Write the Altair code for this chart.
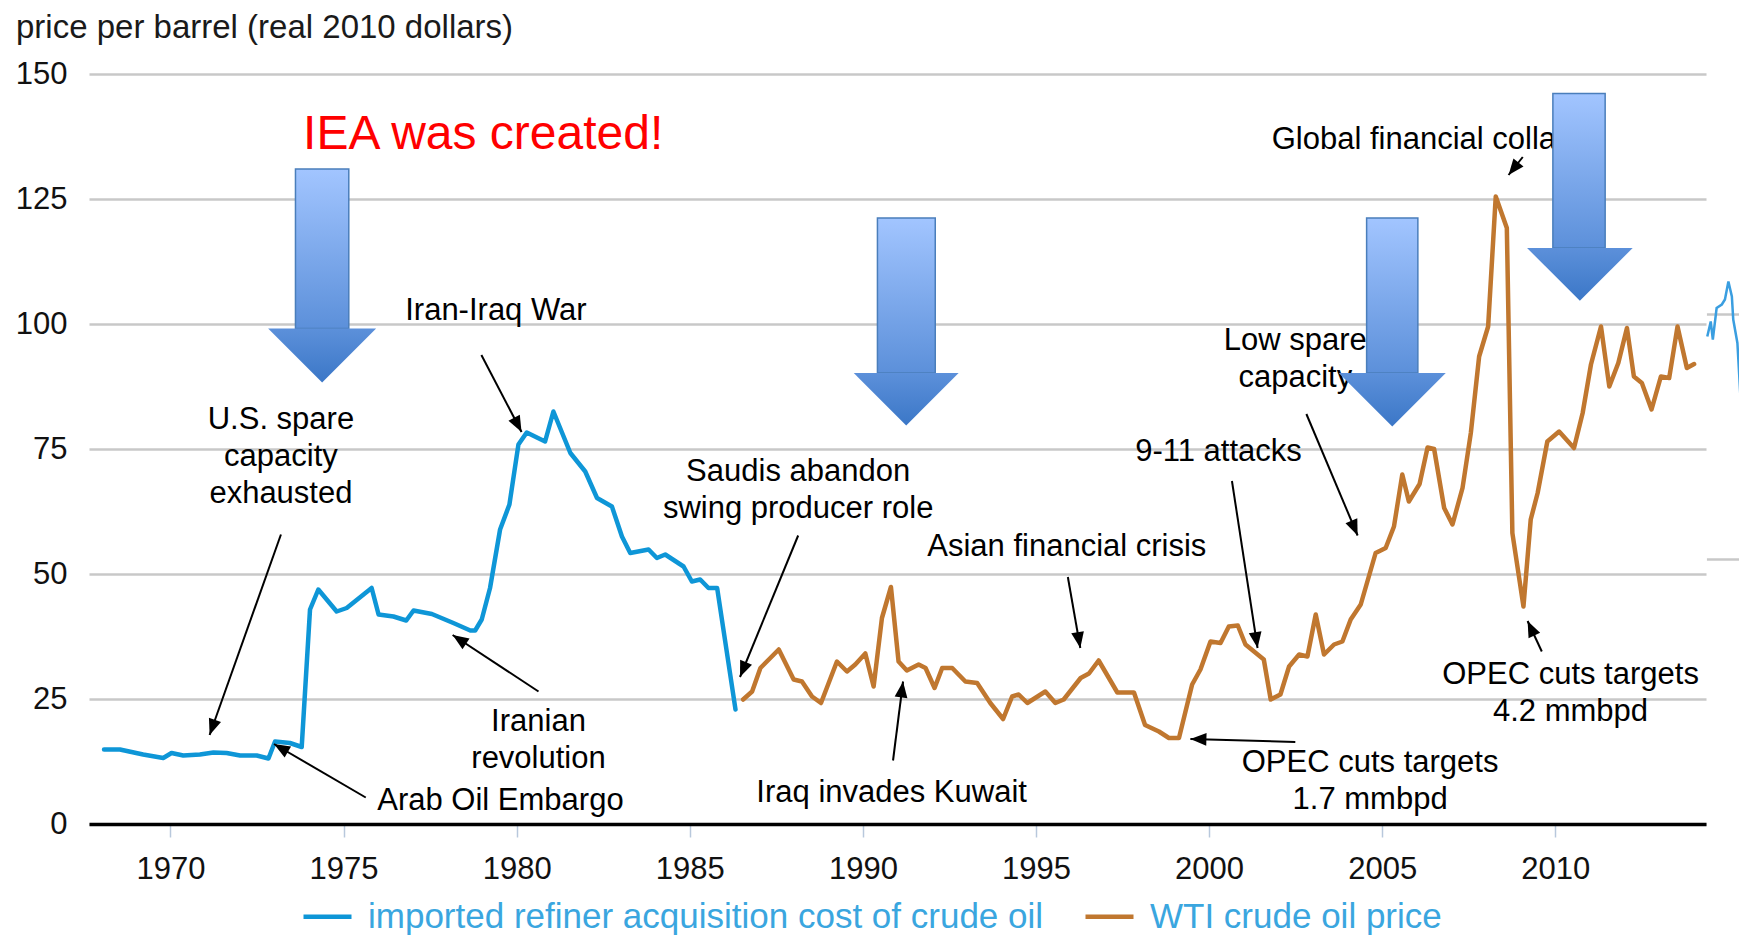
import math
import altair as alt
import pandas as pd

# ---------------- data ----------------
blue_year = [1968.08, 1968.54, 1969.21, 1969.79, 1970.03, 1970.37, 1970.85, 1971.24, 1971.62,
             1972.01, 1972.49, 1972.83, 1973.02, 1973.45, 1973.79, 1974.03, 1974.27, 1974.80,
             1975.09, 1975.81, 1976.01, 1976.44, 1976.81, 1977.02, 1977.55, 1978.17, 1978.66,
             1978.80, 1978.99, 1979.23, 1979.52, 1979.79, 1980.05, 1980.29, 1980.82, 1981.06,
             1981.55, 1981.98, 1982.32, 1982.75, 1983.04, 1983.28, 1983.81, 1984.05, 1984.29,
             1984.82, 1985.06, 1985.30, 1985.54, 1985.79, 1986.32]
blue_value = [14.9, 14.9, 13.9, 13.2, 14.2, 13.7, 13.9, 14.3, 14.2,
              13.7, 13.7, 13.1, 16.5, 16.2, 15.4, 42.9, 46.9, 42.5,
              43.2, 47.2, 41.9, 41.5, 40.7, 42.7, 42.0, 40.2, 38.7,
              38.7, 40.9, 47.2, 58.9, 63.9, 75.9, 78.3, 76.5, 82.5,
              74.2, 70.5, 65.2, 63.5, 57.5, 54.2, 54.9, 53.2, 53.9,
              51.5, 48.5, 48.9, 47.2, 47.2, 22.9]

wti_year = [1986.54, 1986.80, 1987.04, 1987.57, 1988.00, 1988.24, 1988.53, 1988.79, 1989.25,
            1989.54, 1989.78, 1990.07, 1990.31, 1990.55, 1990.81, 1991.03, 1991.27, 1991.61,
            1991.81, 1992.07, 1992.29, 1992.58, 1992.96, 1993.30, 1993.68, 1994.05, 1994.31,
            1994.50, 1994.75, 1995.27, 1995.56, 1995.80, 1996.29, 1996.53, 1996.81, 1997.35,
            1997.83, 1998.15, 1998.55, 1998.84, 1999.13, 1999.51, 1999.75, 2000.04, 2000.33,
            2000.57, 2000.83, 2001.05, 2001.58, 2001.78, 2002.06, 2002.31, 2002.60, 2002.84,
            2003.08, 2003.32, 2003.61, 2003.85, 2004.09, 2004.38, 2004.81, 2005.10, 2005.34,
            2005.58, 2005.77, 2006.08, 2006.31, 2006.50, 2006.79, 2007.03, 2007.32, 2007.56,
            2007.80, 2008.06, 2008.28, 2008.60, 2008.76, 2009.08, 2009.29, 2009.49, 2009.77,
            2010.11, 2010.54, 2010.79, 2011.03, 2011.32, 2011.56, 2011.82, 2012.07, 2012.27,
            2012.50, 2012.78, 2013.05, 2013.29, 2013.53, 2013.80, 2014.01]
wti_value = [24.9, 26.5, 31.2, 34.9, 28.9, 28.5, 25.5, 24.2, 32.5,
             30.5, 31.9, 34.1, 27.5, 41.2, 47.4, 32.5, 30.7, 31.9,
             31.2, 27.2, 31.2, 31.2, 28.5, 28.2, 24.2, 21.0, 25.5,
             25.9, 24.2, 26.5, 24.2, 24.9, 29.2, 30.1, 32.7, 26.3,
             26.3, 19.8, 18.5, 17.2, 17.2, 27.9, 30.9, 36.5, 36.2,
             39.5, 39.7, 35.9, 32.9, 24.9, 25.9, 31.5, 33.9, 33.5,
             41.9, 33.9, 35.9, 36.5, 40.9, 43.9, 54.2, 55.2, 59.5,
             69.9, 64.5, 68.0, 75.3, 75.0, 63.2, 59.9, 67.2, 78.2,
             93.5, 99.5, 125.5, 119.2, 58.2, 43.5, 60.9, 66.2, 76.5,
             78.5, 75.2, 82.2, 91.9, 99.5, 87.5, 92.2, 99.2, 89.5,
             88.2, 82.9, 89.5, 89.2, 99.5, 91.2, 92.0]

series_names = ["imported refiner acquisition cost of crude oil", "WTI crude oil price"]

# cropped fragment of a neighbouring chart at the right edge
edge_year = [2014.39, 2014.49, 2014.55, 2014.66, 2014.81, 2014.90, 2015.00, 2015.10, 2015.14, 2015.26, 2015.38, 2015.51]
edge_value = [97.5, 100.5, 96.9, 103.2, 103.9, 104.9, 108.5, 105.5, 100.9, 96.2, 81.5, 61.5]
edge_grid_value = [101.9, 52.9]
edge_grid_from = [2014.38, 2014.38]
edge_grid_to = [2015.56, 2015.56]

y_ticks = [0, 25, 50, 75, 100, 125, 150]
x_ticks = [1970, 1975, 1980, 1985, 1990, 1995, 2000, 2005, 2010]

# multi-line labels: value gives the position of the first line
ann_text = ["U.S. spare\ncapacity\nexhausted", "Iran-Iraq War", "Saudis abandon\nswing producer role",
            "Asian financial crisis", "9-11 attacks", "Low spare\ncapacity", "Iranian\nrevolution",
            "Arab Oil Embargo", "Iraq invades Kuwait", "OPEC cuts targets\n1.7 mmbpd",
            "OPEC cuts targets\n4.2 mmbpd"]
ann_year = [1973.19, 1979.40, 1988.13, 1995.89, 2000.27, 2002.49, 1980.63, 1979.53, 1990.83, 2004.65, 2010.44]
ann_value = [80.9, 102.7, 70.4, 55.5, 74.4, 96.7, 20.5, 4.6, 6.2, 12.2, 29.8]

iea_text = ["IEA was created!"]
iea_year = [1973.83]
iea_value = [137.9]

gfc_text = ["Global financial collapse"]
gfc_year = [2001.81]
gfc_value = [136.8]

arrow_x1 = [1973.19, 1975.64, 1978.98, 1980.63, 1988.13, 1990.87, 1995.92, 2000.66, 2002.81, 2002.49, 2009.06, 2009.61]
arrow_y1 = [57.9, 5.3, 93.8, 26.5, 57.7, 12.7, 49.4, 68.6, 82.0, 16.4, 133.4, 34.5]
arrow_x2 = [1971.13, 1972.99, 1980.14, 1978.15, 1986.45, 1991.16, 1996.28, 2001.40, 2004.29, 1999.46, 2008.65, 2009.20]
arrow_y2 = [17.8, 16.0, 78.4, 37.8, 29.4, 28.5, 35.2, 35.2, 57.7, 17.0, 129.8, 40.6]

big_id = ["A1", "A2", "A3", "A4"]
big_shaft_x1 = [1973.61, 1990.42, 2004.55, 2009.93]
big_shaft_x2 = [1975.15, 1992.09, 2006.03, 2011.44]
big_shaft_top = [131.0, 121.2, 121.2, 146.1]
big_head_top = [99.1, 90.2, 90.2, 115.2]
big_head_x1 = [1972.80, 1989.74, 2003.75, 2009.18]
big_head_x2 = [1975.92, 1992.77, 2006.84, 2012.23]
big_tip_x = [1974.38, 1991.25, 2005.29, 2010.71]
big_tip_y = [88.4, 79.7, 79.7, 104.7]

# ---------------- layout / style ----------------
W, H = 1617, 750
X_DOMAIN = [1967.646, 2014.353]
Y_DOMAIN = [0, 150]
BLUE = "#0E96D7"
ORANGE = "#C0772F"
FONT = "Liberation Sans"

xs = alt.Scale(domain=X_DOMAIN, nice=False, zero=False)
ys = alt.Scale(domain=Y_DOMAIN, nice=False, zero=False)

AX = alt.Axis(values=x_ticks, format="d", title=None, grid=False,
              domainColor="#000000", domainWidth=3.5,
              tickColor="#B8C8DC", tickSize=13, tickWidth=1.5,
              labelFontSize=31, labelFont=FONT, labelColor="#111111", labelPadding=17)
AY = alt.Axis(values=y_ticks, title=None, grid=True, gridColor="#C8C8C8", gridWidth=2.5,
              domain=False, ticks=False,
              labelFontSize=31, labelFont=FONT, labelColor="#111111", labelPadding=22)


def X(field):
    return alt.X(field, scale=xs, axis=AX)


def Y(field):
    return alt.Y(field, scale=ys, axis=AY)


lines_df = pd.concat([
    pd.DataFrame({"year": blue_year, "value": blue_value, "series": series_names[0]}),
    pd.DataFrame({"year": wti_year, "value": wti_value, "series": series_names[1]}),
])

lines = alt.Chart(lines_df).mark_line(strokeWidth=4.5, strokeJoin="round", strokeCap="round").encode(
    x=X("year:Q"),
    y=Y("value:Q"),
    color=alt.Color("series:N", scale=alt.Scale(domain=series_names, range=[BLUE, ORANGE]),
                    legend=alt.Legend(orient="none", legendX=212, legendY=816, direction="horizontal",
                                      title=None, symbolType="stroke", symbolSize=2304,
                                      symbolStrokeWidth=4.5, labelFontSize=35, labelFont=FONT,
                                      labelColor="#3AA6DF", labelOffset=14, columnPadding=32,
                                      labelLimit=2000)),
    order="year:Q",
)

edge_df = pd.DataFrame({"year": edge_year, "value": edge_value})
edge_line = alt.Chart(edge_df).mark_line(strokeWidth=2.5, color="#3A9EE0", clip=False).encode(
    x=X("year:Q"), y=Y("value:Q"), order="year:Q")
edge_grid_df = pd.DataFrame({"x1": edge_grid_from, "x2": edge_grid_to, "value": edge_grid_value})
edge_grid = alt.Chart(edge_grid_df).mark_rule(strokeWidth=2.5, color="#C8C8C8", clip=False).encode(
    x=X("x1:Q"), x2="x2:Q", y=Y("value:Q"))

ann_df = pd.DataFrame({"year": ann_year, "value": ann_value, "label": ann_text})
ann = alt.Chart(ann_df).mark_text(fontSize=31, font=FONT, color="#000000", align="center",
                                  baseline="middle", lineBreak="\n", lineHeight=37).encode(
    x=X("year:Q"), y=Y("value:Q"), text="label:N")

iea = alt.Chart(pd.DataFrame({"year": iea_year, "value": iea_value, "label": iea_text})).mark_text(
    fontSize=48, font=FONT, color="#FF0000", align="left", baseline="middle").encode(
    x=X("year:Q"), y=Y("value:Q"), text="label:N")

gfc = alt.Chart(pd.DataFrame({"year": gfc_year, "value": gfc_value, "label": gfc_text})).mark_text(
    fontSize=31, font=FONT, color="#000000", align="left", baseline="middle").encode(
    x=X("year:Q"), y=Y("value:Q"), text="label:N")

# arrows (thin black with heads)
px_year = W / (X_DOMAIN[1] - X_DOMAIN[0])
px_val = H / (Y_DOMAIN[1] - Y_DOMAIN[0])
angles = []
for a, b, c, d in zip(arrow_x1, arrow_y1, arrow_x2, arrow_y2):
    dx = (c - a) * px_year
    dy = -(d - b) * px_val
    angles.append(math.degrees(math.atan2(dx, -dy)) % 360)
arr_df = pd.DataFrame({"x1": arrow_x1, "y1": arrow_y1, "x2": arrow_x2, "y2": arrow_y2, "angle": angles})
arr_lines = alt.Chart(arr_df).mark_rule(strokeWidth=2, color="#000000").encode(
    x=X("x1:Q"), y=Y("y1:Q"), x2="x2:Q", y2="y2:Q")
arr_heads = alt.Chart(arr_df).mark_point(shape="M0,0L0.4,1L-0.4,1Z", filled=True, size=1024, opacity=1,
                                         color="#000000", strokeWidth=0).encode(
    x=X("x2:Q"), y=Y("y2:Q"), angle=alt.Angle("angle:Q", scale=None))

# big blue block arrows: shaft (rect) + head (triangle symbol sized from its data width)
TOP_C, MID_C, BOT_C = "#A2C5FF", "#5C90DA", "#3B77C7"
shaft_df = pd.DataFrame({"id": big_id, "x1": big_shaft_x1, "x2": big_shaft_x2,
                         "y1": big_shaft_top, "y2": big_head_top})
shafts = alt.Chart(shaft_df).mark_rect(
    color=alt.Gradient(gradient="linear", x1=0, y1=0, x2=0, y2=1,
                       stops=[alt.GradientStop(color=TOP_C, offset=0), alt.GradientStop(color=MID_C, offset=1)]),
    stroke="#4A7EBB", strokeWidth=1.5).encode(
    x=X("x1:Q"), x2="x2:Q", y=Y("y1:Q"), y2="y2:Q")

head_size = [(((b - a) / 2) * px_year * 2) ** 2 for a, b in zip(big_head_x1, big_head_x2)]
head_df = pd.DataFrame({"id": big_id, "x": big_tip_x, "y": big_head_top, "size": head_size})
heads = alt.Chart(head_df).mark_point(
    shape="M-1,0L1,0L0,1Z", filled=True, opacity=1, strokeWidth=0,
    fill=alt.Gradient(gradient="linear", x1=0, y1=0, x2=0, y2=1,
                      stops=[alt.GradientStop(color=MID_C, offset=0), alt.GradientStop(color=BOT_C, offset=1)])).encode(
    x=X("x:Q"), y=Y("y:Q"), size=alt.Size("size:Q", scale=None, legend=None))

chart = alt.layer(
    lines, edge_grid, edge_line, ann, iea, gfc, arr_lines, arr_heads, shafts, heads
).properties(
    width=W, height=H,
    padding={"left": 81, "top": 66, "right": 33, "bottom": 112},
    autosize=alt.AutoSizeParams(type="none"),
    title=alt.TitleParams(text="price per barrel (real 2010 dollars)", anchor="start", frame="group",
                          dx=-73, fontSize=33, font=FONT, fontWeight="normal", color="#1A1A1A", offset=13),
).configure_view(stroke=None)

chart.save("out.html", embed_options={"renderer": "svg", "actions": False})
